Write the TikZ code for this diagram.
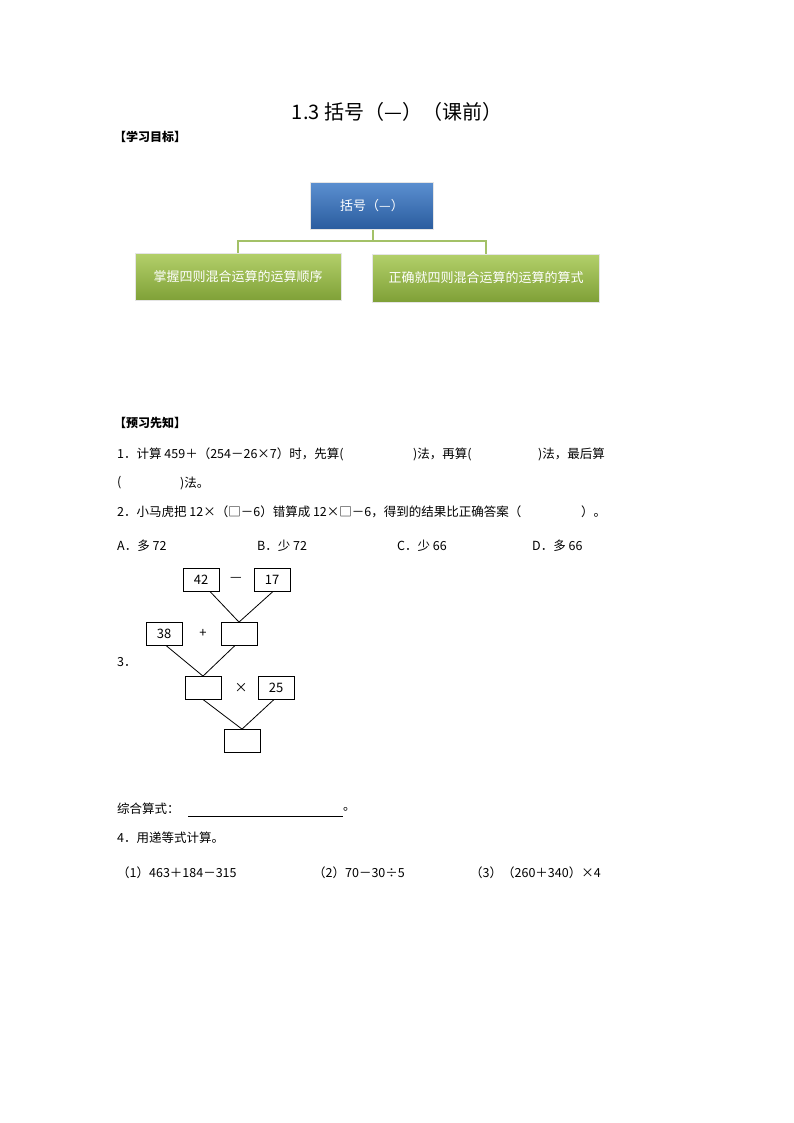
\documentclass[tikz,border=0pt]{standalone}
\usepackage{fontspec}
\setmainfont{Noto Sans CJK SC}
\definecolor{blueT}{HTML}{5B8FD0}
\definecolor{blueB}{HTML}{2A5C9E}
\definecolor{greenT}{HTML}{B3D06A}
\definecolor{greenB}{HTML}{7FA037}
\definecolor{olive1}{HTML}{A3C167}
\begin{document}
\begin{tikzpicture}[x=1pt,y=-1pt,
  txt/.style={anchor=west,inner sep=0pt,font=\fontsize{12.5}{14}\selectfont},
  nb/.style={draw,line width=0.8pt,minimum width=36pt,minimum height=23pt,inner sep=0pt,font=\fontsize{13}{14}\selectfont},
  op/.style={font=\fontsize{13}{14}\selectfont},
  ln/.style={line width=0.8pt},
  gbox/.style={draw=white!80!gray,top color=greenT,bottom color=greenB,text=white,inner sep=0pt,font=\fontsize{13}{14}\selectfont},
  bbox/.style={draw=white!80!gray,top color=blueT,bottom color=blueB,text=white,inner sep=0pt,font=\fontsize{13}{14}\selectfont},
  gl/.style={draw=olive1,line width=2.5pt}]
\useasboundingbox (0,0) rectangle (794,1123);
\node[font=\fontsize{20}{22}\selectfont] (title) at (397,112) {1.3 括号（—）（课前）};
\node[txt,font=\fontsize{12}{14}\selectfont\bfseries] (h1) at (114,137) {【学习目标】};
\coordinate (m) at (373,241);
\draw[gl] (373,230) -- (m) -| (238,254);
\draw[gl] (m) -| (486,254);
\node[bbox,minimum width=123pt,minimum height=47pt] (top) at (372,206) {括号（—）};
\node[gbox,minimum width=206pt,minimum height=47pt] (L) at (238,277) {掌握四则混合运算的运算顺序};
\node[gbox,minimum width=227pt,minimum height=48pt] (R) at (486,278) {正确就四则混合运算的运算的算式};
\node[txt,font=\fontsize{12}{14}\selectfont\bfseries] (h2) at (114,423) {【预习先知】};
\node[txt] (q1a) at (117,454) {1．计算 459＋（254－26×7）时，先算(};
\node[txt] (q1b) at (413,454) {)法，再算(};
\node[txt] (q1c) at (538,454) {)法，最后算};
\node[txt] (q1d) at (117,483) {(};
\node[txt] (q1e) at (180,483) {)法。};
\node[txt] (q2a) at (117,512) {2．小马虎把 12×（□－6）错算成 12×□－6，得到的结果比正确答案（};
\node[txt] (q2b) at (581,512) {）。};
\node[txt] (oa) at (117,546) {A．多 72};
\node[txt] (ob) at (257,546) {B．少 72};
\node[txt] (oc) at (397,546) {C．少 66};
\node[txt] (od) at (532,546) {D．多 66};
\node[nb] (n42) at (201,580) {42};
\node[nb] (n17) at (272,580) {17};
\node[op] (minus) at (236,579) {—};
\node[nb] (n38) at (164,634) {38};
\node[op] (plus) at (203,633) {+};
\node[nb] (e1) at (239,634) {};
\node[txt] (q3) at (117,662) {3．};
\node[nb] (e2) at (203,688) {};
\node[op] (times) at (241,688) {×};
\node[nb] (n25) at (276,688) {25};
\node[nb] (e3) at (242,741) {};
\draw[ln] (210,591.5) -- (e1.north);
\draw[ln] (273,591.5) -- (e1.north);
\draw[ln] (166,645.5) -- (e2.north);
\draw[ln] (235,645.5) -- (e2.north);
\draw[ln] (203,699.5) -- (e3.north);
\draw[ln] (274,699.5) -- (e3.north);
\node[txt] (z) at (117,809) {综合算式：};
\coordinate (u1) at (188,816);
\coordinate (u2) at (343,816);
\draw[line width=0.6pt] (u1) -- (u2);
\node[txt] (zend) at (343,809) {。};
\node[txt] (q4) at (117,838) {4．用递等式计算。};
\node[txt] (p1) at (117,873) {（1）463＋184－315};
\node[txt] (p2) at (313,873) {（2）70－30÷5};
\node[txt] (p3) at (470,873) {（3）（260＋340）×4};
\end{tikzpicture}
\end{document}
